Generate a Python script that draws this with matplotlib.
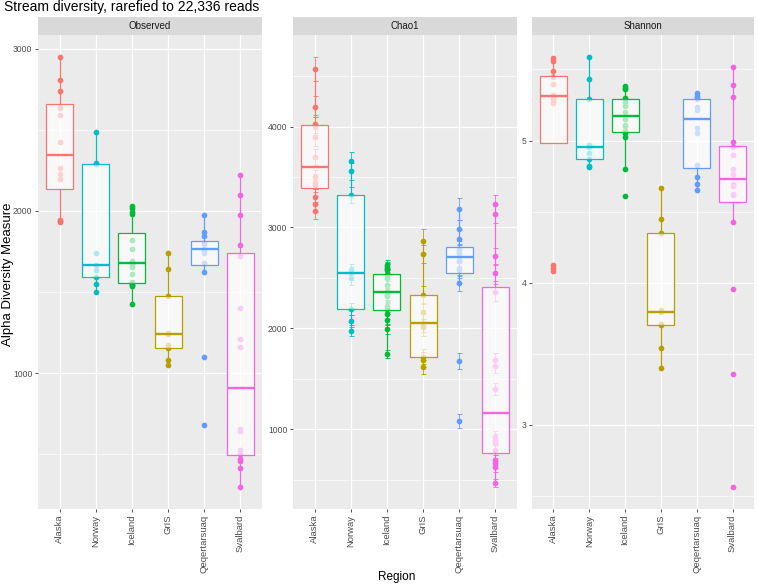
import numpy as np
import matplotlib.pyplot as plt
from matplotlib.ticker import MultipleLocator

plt.rcParams['font.family'] = ['Liberation Sans', 'DejaVu Sans']

# Data
regions = ['Alaska', 'Norway', 'Iceland', 'GrIS', 'Qeqertarsuaq', 'Svalbard']
colors = ['#F8766D', '#00BFC4', '#00BA38', '#B79F00', '#619CFF', '#F564E3']

observed = [
    [1932, 1938, 1945, 2200, 2229, 2265, 2425, 2591, 2634, 2743, 2810, 2953],
    [1502, 1549, 1594, 1638, 1668, 1738, 2290, 2294, 2489],
    [1428, 1535, 1545, 1550, 1560, 1609, 1652, 1675, 1679, 1693, 1765, 1821, 1983, 1994, 2016, 2028],
    [1047, 1082, 1156, 1170, 1244, 1246, 1477, 1643, 1742],
    [680, 1100, 1623, 1680, 1740, 1759, 1768, 1798, 1805, 1843, 1868, 1975],
    [294, 413, 460, 469, 500, 526, 642, 654, 1158, 1210, 1399, 1722, 1790, 1973, 2101, 2222],
]

chao1 = [
    [3165, 3234, 3306, 3417, 3455, 3495, 3697, 3895, 4007, 4027, 4198, 4575],
    [1975, 2075, 2193, 2494, 2547, 2573, 3323, 3558, 3660],
    [1747, 1995, 2085, 2144, 2196, 2216, 2322, 2340, 2370, 2431, 2500, 2530, 2573, 2590, 2607, 2625],
    [1618, 1688, 1718, 2008, 2052, 2157, 2333, 2741, 2867],
    [1083, 1678, 2448, 2575, 2600, 2669, 2749, 2758, 2785, 2884, 2983, 3181],
    [464, 623, 662, 696, 792, 862, 895, 920, 1400, 1622, 1685, 2355, 2553, 2712, 3132, 3234],
]

chao1_se = [
    [85, 80, 75, 70, 72, 78, 80, 85, 90, 88, 100, 119],
    [56, 58, 60, 62, 65, 66, 80, 85, 92],
    [42, 50, 52, 50, 55, 55, 58, 56, 60, 58, 60, 62, 60, 58, 55, 50],
    [70, 75, 72, 88, 85, 90, 88, 89, 116],
    [70, 80, 76, 75, 78, 80, 80, 82, 85, 88, 95, 106],
    [42, 45, 48, 50, 52, 55, 55, 58, 60, 65, 68, 80, 85, 88, 90, 89],
]

shannon = [
    [4.079, 4.100, 4.121, 5.267, 5.286, 5.300, 5.321, 5.397, 5.446, 5.492, 5.563, 5.579],
    [4.813, 4.824, 4.873, 4.911, 4.951, 4.970, 5.293, 5.432, 5.591],
    [4.606, 4.799, 5.028, 5.050, 5.065, 5.100, 5.108, 5.150, 5.200, 5.244, 5.270, 5.290, 5.300, 5.361, 5.373, 5.385],
    [3.399, 3.537, 3.700, 3.711, 3.795, 3.805, 4.349, 4.451, 4.665],
    [4.655, 4.693, 4.745, 4.831, 5.050, 5.087, 5.218, 5.235, 5.291, 5.300, 5.310, 5.335],
    [2.558, 3.357, 3.952, 4.428, 4.616, 4.623, 4.680, 4.692, 4.766, 4.801, 4.897, 4.953, 4.986, 5.307, 5.390, 5.516],
]

measures = ['Observed', 'Chao1', 'Shannon']
values = [observed, chao1, shannon]
errors = [None, chao1_se, None]
steps = [1000, 1000, 1]

# Layout (pixels)
W, H = 758, 584
panels = [(38, 224), (293, 224), (532, 222)]
top, bottom = 35, 509

fig = plt.figure(figsize=(W / 100, H / 100), dpi=100)

for k in range(3):
    left, width = panels[k]
    ax = fig.add_axes([left / W, 1 - bottom / H, width / W, (bottom - top) / H])
    ax.set_facecolor('#EBEBEB')
    for s in ax.spines.values():
        s.set_visible(False)

    data = values[k]
    err = errors[k]
    pos = np.arange(1, len(regions) + 1)

    lo, hi = np.inf, -np.inf
    for i, d in enumerate(data):
        d = np.array(d, dtype=float)
        x = np.full(len(d), pos[i])
        if err is not None:
            e = np.array(err[i], dtype=float)
            ax.errorbar(x, d, yerr=e, fmt='none', ecolor=colors[i], elinewidth=0.6,
                        capsize=1.8, capthick=0.6, zorder=2)
            lo, hi = min(lo, (d - e).min()), max(hi, (d + e).max())
        else:
            lo, hi = min(lo, d.min()), max(hi, d.max())
        ax.scatter(x, d, s=17, color=colors[i], linewidths=0, zorder=2)

    bp = ax.boxplot(data, positions=pos, widths=0.75, patch_artist=True,
                    showfliers=False, showcaps=False, whis=1.5)
    for i in range(len(data)):
        c = colors[i]
        box = bp['boxes'][i]
        box.set_facecolor((1, 1, 1, 0.68))
        box.set_edgecolor(c)
        box.set_linewidth(0.9)
        box.set_zorder(3)
        bp['medians'][i].set_color(c)
        bp['medians'][i].set_linewidth(1.7)
        bp['medians'][i].set_zorder(4)
        for w in bp['whiskers'][2 * i:2 * i + 2]:
            w.set_color(c)
            w.set_linewidth(0.9)
            w.set_zorder(3)

    pad = 0.05 * (hi - lo)
    ax.set_ylim(lo - pad, hi + pad)
    ax.set_xlim(0.4, len(regions) + 0.6)

    ax.yaxis.set_major_locator(MultipleLocator(steps[k]))
    ax.yaxis.set_minor_locator(MultipleLocator(steps[k] / 2))
    ax.set_xticks(pos)
    ax.set_xticklabels(regions, rotation=90, fontsize=6.8)
    ax.set_axisbelow(True)
    ax.grid(which='major', color='white', linewidth=0.9)
    ax.grid(which='minor', axis='y', color='white', linewidth=0.45)
    ax.tick_params(which='major', length=2.5, width=0.6, color='#333333',
                   labelcolor='#4D4D4D', pad=1.5)
    ax.tick_params(axis='y', labelsize=6.2)
    ax.tick_params(which='minor', length=0)

    # facet strip
    sax = fig.add_axes([left / W, 1 - top / H, width / W, 18 / H])
    sax.set_facecolor('#D9D9D9')
    sax.set_xticks([])
    sax.set_yticks([])
    for s in sax.spines.values():
        s.set_visible(False)
    sax.text(0.5, 0.5, measures[k], ha='center', va='center', fontsize=7,
             color='#1A1A1A', transform=sax.transAxes)

fig.text(4 / W, 1 - 11 / H, 'Stream diversity, rarefied to 22,336 reads',
         fontsize=10, color='black', va='baseline', ha='left')
fig.text(8 / W, 1 - 274 / H, 'Alpha Diversity Measure', rotation=90,
         fontsize=9.5, ha='center', va='center')
fig.text(397 / W, 1 - 577 / H, 'Region', fontsize=8.5, ha='center', va='center')

fig.savefig('out.png', dpi=100)
